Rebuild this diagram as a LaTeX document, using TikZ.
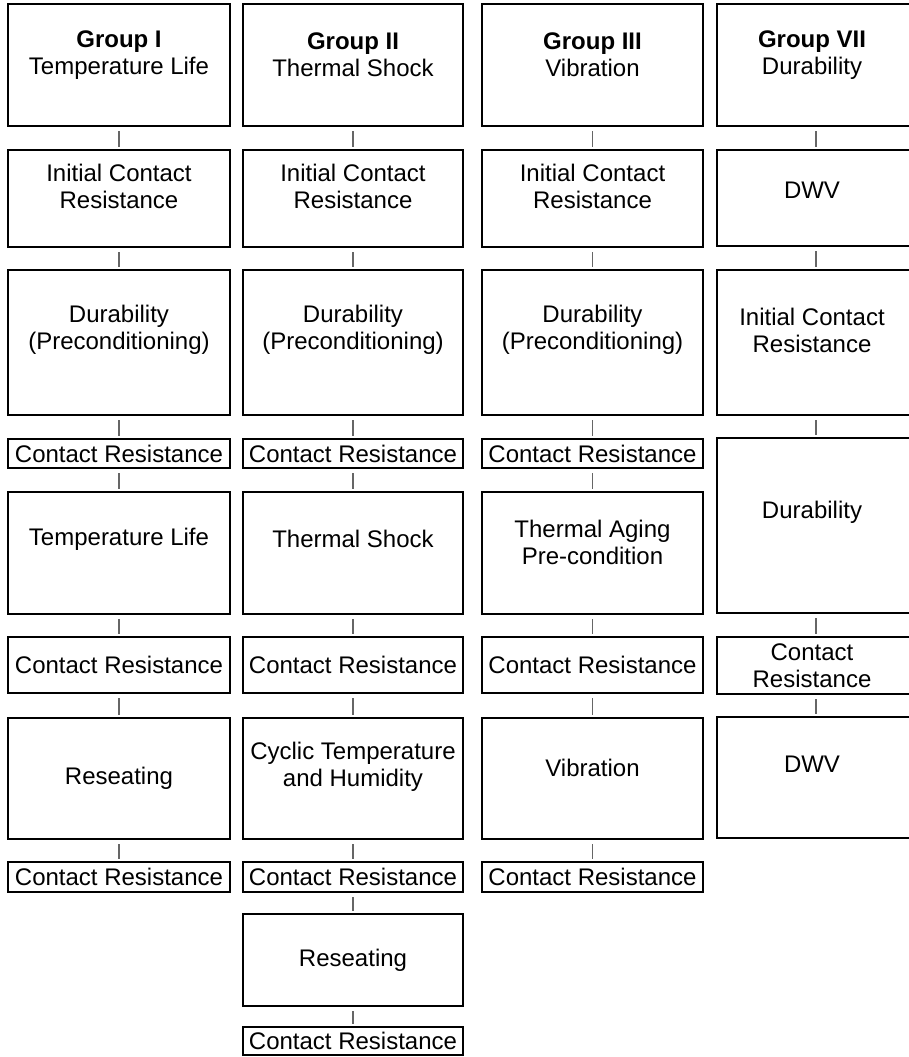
\documentclass[tikz,border=0pt]{standalone}
\usepackage{fontspec}
\setmainfont{Liberation Sans}

\tikzset{
  stage/.style={draw, line width=2.4pt, inner sep=0pt},
  stagetxt/.style={align=center, font=\fontsize{24}{27}\selectfont},
  link/.style={draw=black!60, line width=1.1pt, shorten <=4pt, shorten >=1.5pt},
}

\begin{document}
\begin{tikzpicture}[x=1pt, y=-1pt]
  \useasboundingbox (0,0) rectangle (908,1057);

  % Group I
  \foreach \k/\y/\hgt/\sh/\txt in {
      1/65/122/10/{\textbf{Group I}\\Temperature Life},
      2/198.5/97/12/{Initial Contact\\Resistance},
      3/342.5/145/13/{Durability\\(Preconditioning)},
      4/453.5/29/0/{Contact Resistance},
      5/553/122/14/{Temperature Life},
      6/665/56/0/{Contact Resistance},
      7/778.5/121/0/{Reseating},
      8/877/30/0/{Contact Resistance}}
    \node[stage, minimum width=222pt, minimum height=\hgt pt,
          label={[stagetxt, yshift=\sh pt]center:{\txt}}] (c1-\k) at (119,\y) {};

  % Group II
  \foreach \k/\y/\hgt/\sh/\txt in {
      1/65/122/10/{\textbf{Group II}\\Thermal Shock},
      2/198.5/97/12/{Initial Contact\\Resistance},
      3/342.5/145/13/{Durability\\(Preconditioning)},
      4/453.5/29/0/{Contact Resistance},
      5/553/122/14/{Thermal Shock},
      6/665/56/0/{Contact Resistance},
      7/778.5/121/12/{Cyclic Temperature\\and Humidity},
      8/877/30/0/{Contact Resistance},
      9/960/92/0/{Reseating},
      10/1041/28/0/{Contact Resistance}}
    \node[stage, minimum width=220pt, minimum height=\hgt pt,
          label={[stagetxt, yshift=\sh pt]center:{\txt}}] (c2-\k) at (353,\y) {};

  % Group III
  \foreach \k/\y/\hgt/\sh/\txt in {
      1/65/122/10/{\textbf{Group III}\\Vibration},
      2/198.5/97/12/{Initial Contact\\Resistance},
      3/342.5/145/13/{Durability\\(Preconditioning)},
      4/453.5/29/0/{Contact Resistance},
      5/553/122/11/{Thermal Aging\\Pre-condition},
      6/665/56/0/{Contact Resistance},
      7/778.5/121/11/{Vibration},
      8/877/30/0/{Contact Resistance}}
    \node[stage, minimum width=221pt, minimum height=\hgt pt,
          label={[stagetxt, yshift=\sh pt]center:{\txt}}] (c3-\k) at (592.5,\y) {};

  % Group VII (runs past the right edge)
  \foreach \k/\y/\hgt/\sh/\txt in {
      1/65/122/10/{\textbf{Group VII}\\Durability},
      2/198/96/8/{DWV},
      3/342.5/145/12/{Initial Contact\\Resistance},
      4/525.5/175/13/{Durability},
      5/665.5/57/0/{Contact\\Resistance},
      6/777.5/121/13/{DWV}}
    \node[stage, minimum width=198pt, minimum height=\hgt pt,
          label={[stagetxt, xshift=-4pt, yshift=\sh pt]center:{\txt}}] (c4-\k) at (816,\y) {};

  % links
  \foreach \col/\last in {1/7, 2/9, 3/7, 4/5}
    \foreach \i in {1,...,\last} {
      \pgfmathtruncatemacro{\j}{\i+1}
      \draw[link] (c\col-\i) -- (c\col-\j);
    }
\end{tikzpicture}
\end{document}
